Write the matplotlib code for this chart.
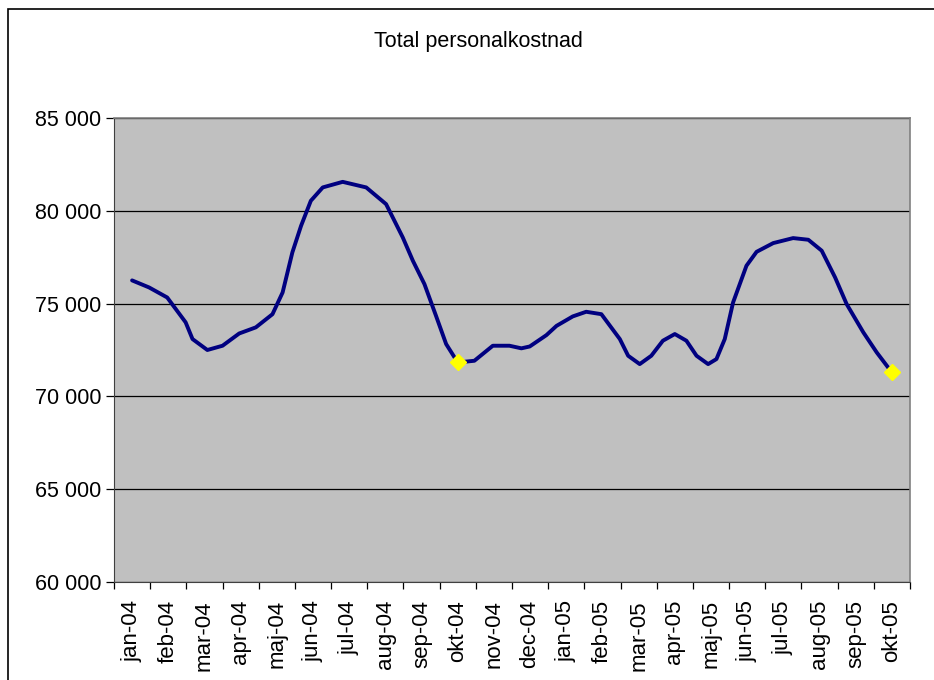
"""
Total personalkostnad, jan-04 .. okt-05
"""

import matplotlib

matplotlib.use("Agg")
import matplotlib.pyplot as plt
from matplotlib.patches import Rectangle
from matplotlib.ticker import FixedLocator, FuncFormatter

plt.rcParams["font.family"] = ["Liberation Sans", "DejaVu Sans"]

# category labels (one per month)
month_labels = [
    "jan-04", "feb-04", "mar-04", "apr-04", "maj-04", "jun-04", "jul-04",
    "aug-04", "sep-04", "okt-04", "nov-04", "dec-04", "jan-05", "feb-05",
    "mar-05", "apr-05", "maj-05", "jun-05", "jul-05", "aug-05", "sep-05",
    "okt-05",
]

# position along the time axis, in months from jan-04
cost_months = [
    0.0, 0.47, 0.97, 1.48, 1.67, 2.08, 2.5, 2.96, 3.42, 3.88, 4.16, 4.43,
    4.67, 4.94, 5.27, 5.82, 6.47, 7.02, 7.48, 7.76, 8.08, 8.4, 8.68, 9.0,
    9.46, 9.97, 10.43, 10.76, 10.99, 11.45, 11.73, 12.18, 12.55, 12.97,
    13.48, 13.71, 14.03, 14.35, 14.67, 15.0, 15.32, 15.6, 15.92, 16.15,
    16.38, 16.61, 16.98, 17.26, 17.72, 18.27, 18.69, 19.06, 19.43, 19.75,
    20.21, 20.58, 21.0,
]
cost_values = [
    76250, 75870, 75330, 73990, 73090, 72500, 72730, 73390, 73720, 74430,
    75600, 77760, 79190, 80540, 81260, 81560, 81260, 80360, 78570, 77310,
    76050, 74340, 72820, 71830, 71920, 72730, 72730, 72590, 72690, 73300,
    73800, 74310, 74560, 74430, 73090, 72190, 71740, 72190, 73000, 73360,
    73000, 72190, 71740, 72010, 73090, 75060, 77040, 77790, 78260, 78530,
    78440, 77850, 76410, 74970, 73450, 72370, 71290,
]

# highlighted points (okt-04 and okt-05)
marked_months = [9.0, 21.0]

y_ticks = [60000, 65000, 70000, 75000, 80000, 85000]

fig = plt.figure(figsize=(9.34, 6.8), dpi=100)

# outer chart border (only left and top edges are inside the picture)
fig.add_artist(
    Rectangle(
        (8 / 934, -0.5), 2.0, 1.5 - 9 / 680,
        transform=fig.transFigure, fill=False, edgecolor="black", linewidth=1.2,
    )
)

ax = fig.add_axes([114 / 934, 98 / 680, 796 / 934, 464 / 680])
ax.set_facecolor("#c0c0c0")

mark_idx = [cost_months.index(m) for m in marked_months]
ax.plot(
    cost_months, cost_values,
    color="#000080", linewidth=2.8, solid_joinstyle="round", solid_capstyle="round",
    marker="D", markevery=mark_idx, markersize=8,
    markerfacecolor="#ffff00", markeredgecolor="#ffff00", zorder=3,
)

ax.set_xlim(-0.5, len(month_labels) - 0.5)
ax.set_ylim(60000, 85000)

# y axis
ax.set_yticks(y_ticks)
ax.yaxis.set_major_formatter(FuncFormatter(lambda v, p: f"{v:,.0f}".replace(",", " ")))
ax.yaxis.grid(True, color="black", linewidth=0.9)
ax.tick_params(axis="y", length=6, width=0.9, color="black", labelsize=15.5, pad=3)

# x axis: labels centred in categories, ticks on the boundaries
ax.set_xticks(range(len(month_labels)))
ax.set_xticklabels(month_labels, rotation=90)
ax.xaxis.set_minor_locator(FixedLocator([i - 0.5 for i in range(len(month_labels) + 1)]))
ax.tick_params(axis="x", which="major", length=0, labelsize=16, pad=13)
ax.tick_params(axis="x", which="minor", length=5, width=0.9, color="black")

for side in ["top", "right"]:
    ax.spines[side].set_color("#808080")
    ax.spines[side].set_linewidth(1.2)
ax.spines["left"].set_color("#404040")
ax.spines["bottom"].set_color("#404040")
ax.set_axisbelow(True)

fig.text(478 / 934, 1 - 42 / 680, "Total personalkostnad", ha="center", va="center", fontsize=15.5)

fig.savefig("out.png", dpi=100)
plt.close(fig)
